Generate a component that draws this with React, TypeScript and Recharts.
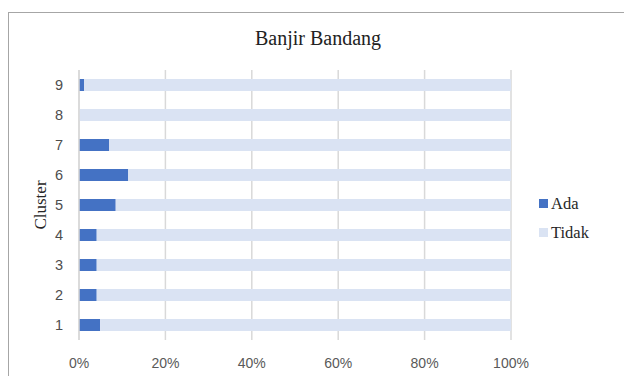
import { BarChart, Bar, XAxis, YAxis, CartesianGrid, Legend } from 'recharts';

// Share of each cluster with / without flash floods (percent)
const clusters = ['1', '2', '3', '4', '5', '6', '7', '8', '9'];
const ada = [4.9, 4.1, 4.1, 4.1, 8.5, 11.4, 7.0, 0, 1.2];
const tidak = ada.map((v) => +(100 - v).toFixed(1));
const xTicks = [0, 20, 40, 60, 80, 100];

const SERIES = [
  { key: 'ada', name: 'Ada', color: '#4472C4' },
  { key: 'tidak', name: 'Tidak', color: '#DAE3F3' },
];

const data = clusters.map((c, i) => ({ cluster: c, ada: ada[i], tidak: tidak[i] }));

const SERIF = '"Liberation Serif", "Times New Roman", serif';
const SANS = '"Liberation Sans", Arial, sans-serif';

const renderLegend = (props: any) => {
  const items = props.payload || [];
  return (
    <div style={{ fontFamily: SERIF, fontSize: 16.5, color: '#262626' }}>
      {items.map((it: any) => (
        <div key={it.value} style={{ display: 'flex', alignItems: 'center', height: 29, lineHeight: '29px' }}>
          <span style={{ width: 9, height: 9, background: it.color, marginRight: 3, display: 'inline-block' }} />
          <span>{it.value}</span>
        </div>
      ))}
    </div>
  );
};

export default function App() {
  return (
    <div
      style={{
        position: 'absolute',
        left: 8,
        top: 12,
        width: 615,
        height: 363,
        borderTop: '1px solid #a6a6a6',
        borderLeft: '1px solid #a6a6a6',
        background: '#fff',
      }}
    >
      <div
        style={{
          position: 'absolute',
          left: 159,
          top: 15,
          width: 300,
          textAlign: 'center',
          fontFamily: SERIF,
          fontSize: 20,
          lineHeight: '20px',
          color: '#222',
        }}
      >
        Banjir Bandang
      </div>
      <div
        style={{
          position: 'absolute',
          left: 32,
          top: 192,
          transform: 'translate(-50%, -50%) rotate(-90deg)',
          fontFamily: SERIF,
          fontSize: 17,
          lineHeight: '16px',
          color: '#262626',
          whiteSpace: 'nowrap',
        }}
      >
        Cluster
      </div>
      <BarChart
        width={615}
        height={363}
        data={data}
        layout="vertical"
        margin={{ top: 57, right: 113, left: 0, bottom: 6 }}
        barSize={12}
      >
        <CartesianGrid horizontal={false} stroke="#d9d9d9" strokeWidth={1.5} />
        <XAxis
          type="number"
          domain={[0, 100]}
          ticks={xTicks}
          tickFormatter={(v: number) => `${v}%`}
          axisLine={false}
          tickLine={false}
          tickSize={0}
          tickMargin={18}
          height={30}
          tick={{ fill: '#595959', fontSize: 14, fontFamily: SANS }}
          interval={0}
        />
        <YAxis
          type="category"
          dataKey="cluster"
          reversed
          width={70}
          axisLine={{ stroke: '#d9d9d9', strokeWidth: 1.5 }}
          tickLine={false}
          tickSize={0}
          tickMargin={16}
          tick={{ fill: '#4d4d4d', fontSize: 14.5, fontFamily: SANS }}
          interval={0}
        />
        <Legend
          content={renderLegend}
          layout="vertical"
          align="center"
          verticalAlign="middle"
          wrapperStyle={{ left: 530, top: 176, width: 80 }}
        />
        {SERIES.map((s) => (
          <Bar key={s.key} dataKey={s.key} name={s.name} stackId="a" fill={s.color} isAnimationActive={false} />
        ))}
      </BarChart>
    </div>
  );
}
